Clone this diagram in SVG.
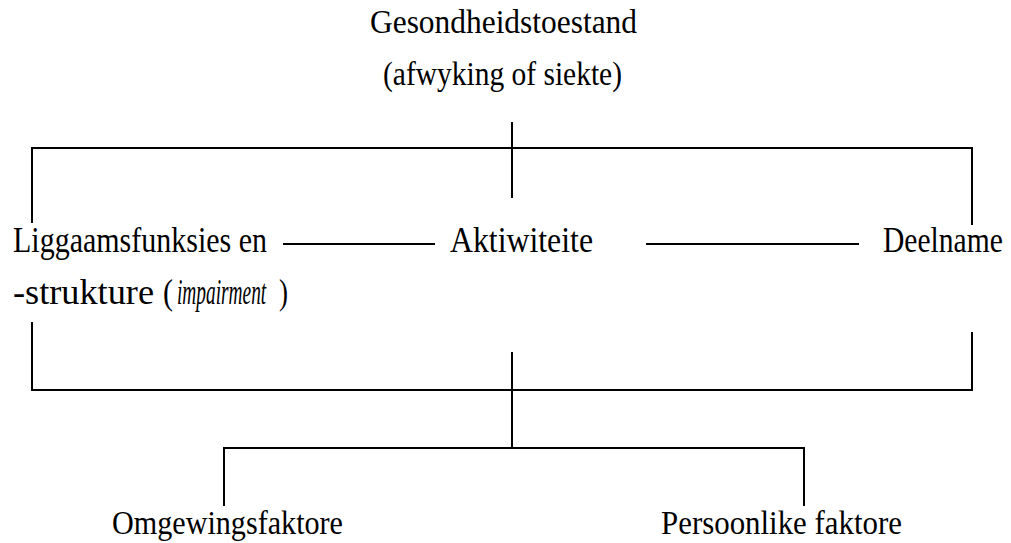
<svg xmlns="http://www.w3.org/2000/svg" width="1011" height="543" viewBox="0 0 1011 543">
<style>
.t{font-family:"Liberation Serif","Times New Roman",serif;font-size:33px;fill:#000}
.m{font-size:35px}
.i{font-style:italic}
.c{stroke:#000;stroke-width:2;fill:none}
</style>
<rect width="1011" height="543" fill="#fff"/>
<g id="connectors">
<path class="c" d="M512 122V198"/>
<path class="c" d="M32 223V148H972V225"/>
<path class="c" d="M283 244H435"/>
<path class="c" d="M646 244H859"/>
<path class="c" d="M32 322V390H972V332"/>
<path class="c" d="M512 352V448"/>
<path class="c" d="M224 506V448H804V506"/>
</g>
<g id="gesondheidstoestand">
<text class="t" x="370" y="33" textLength="267" lengthAdjust="spacingAndGlyphs">Gesondheidstoestand</text>
<text class="t" x="383" y="85" textLength="239" lengthAdjust="spacingAndGlyphs">(afwyking of siekte)</text>
</g>
<g id="liggaamsfunksies">
<text class="t m" x="13" y="252" textLength="254" lengthAdjust="spacingAndGlyphs">Liggaamsfunksies en</text>
<text class="t m" x="13" y="304" textLength="141" lengthAdjust="spacingAndGlyphs">-strukture</text>
<text class="t m" x="163" y="304" textLength="10" lengthAdjust="spacingAndGlyphs">(</text>
<text class="t m i" transform="translate(177 304) scale(0.553 1)">impairment</text>
<text class="t m" x="279" y="304" textLength="9" lengthAdjust="spacingAndGlyphs">)</text>
</g>
<g id="aktiwiteite">
<text class="t m" x="450" y="252" textLength="143" lengthAdjust="spacingAndGlyphs">Aktiwiteite</text>
</g>
<g id="deelname">
<text class="t m" transform="translate(883 252) scale(0.845 1)">Deelname</text>
</g>
<g id="omgewingsfaktore">
<text class="t" x="112" y="534" textLength="231" lengthAdjust="spacingAndGlyphs">Omgewingsfaktore</text>
</g>
<g id="persoonlike">
<text class="t" x="661" y="534" textLength="241" lengthAdjust="spacingAndGlyphs">Persoonlike faktore</text>
</g>
</svg>
